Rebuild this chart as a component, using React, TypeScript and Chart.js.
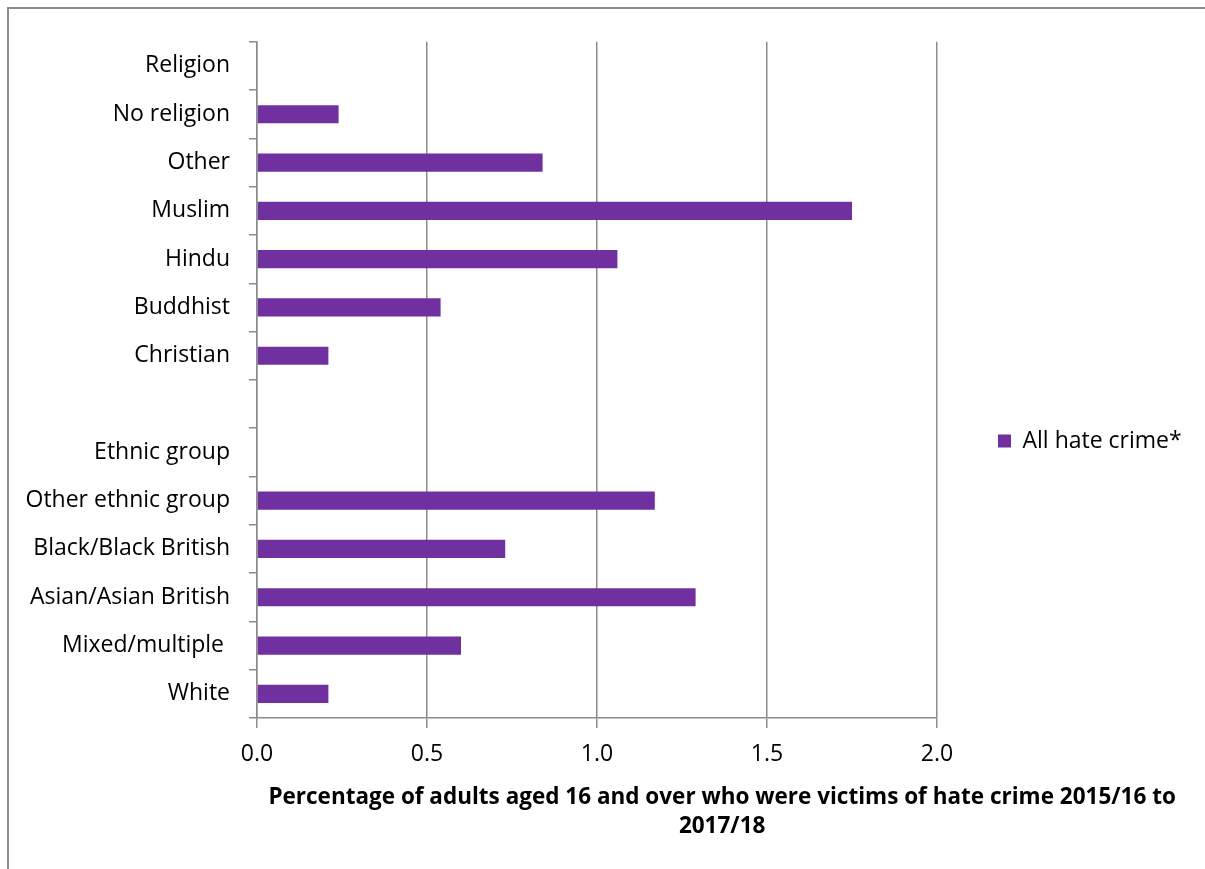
import React, { useEffect, useRef } from "react";
import { Chart, registerables } from "chart.js";

Chart.register(...registerables);

const categories = [
  "Religion",
  "No religion",
  "Other",
  "Muslim",
  "Hindu",
  "Buddhist",
  "Christian",
  "",
  "Ethnic group",
  "Other ethnic group",
  "Black/Black British",
  "Asian/Asian British",
  "Mixed/multiple ",
  "White",
];
const allHateCrime: (number | null)[] = [
  null, 0.24, 0.84, 1.75, 1.06, 0.54, 0.21, null, null, 1.17, 0.73, 1.29, 0.6, 0.21,
];
const seriesLabel = "All hate crime*";
const xMin = 0;
const xMax = 2;
const xStep = 0.5;
const xTitleLines = [
  "Percentage of adults aged 16 and over who were victims of hate crime 2015/16 to",
  "2017/18",
];

const FONT = "'Open Sans', 'DejaVu Sans', sans-serif";
const GRID = "#8c8c8c";
const BAR = "#7030A0";
const LABEL_SIZE = 23;
const LEGEND_BOX = 13;
const LEGEND_PAD = 61;
const CANVAS_W = 1196;
const CANVAS_H = 836;
const AREA_RIGHT = 928;
const AREA_TOP = 28;
const X_AXIS_H = 127;

const xTitlePlugin = {
  id: "xTitle",
  afterDraw(chart: any) {
    const { ctx, chartArea } = chart;
    ctx.save();
    ctx.font = `bold 22.5px ${FONT}`;
    ctx.fillStyle = "#000";
    ctx.textAlign = "center";
    ctx.textBaseline = "middle";
    const cx = chartArea.left + chartArea.width * 0.684;
    const y0 = chartArea.bottom + 80;
    xTitleLines.forEach((line, i) => ctx.fillText(line, cx, y0 + i * 29));
    ctx.restore();
  },
};

export default function App() {
  const ref = useRef<HTMLCanvasElement | null>(null);
  useEffect(() => {
    if (!ref.current) return;
    const mctx = document.createElement("canvas").getContext("2d")!;
    mctx.font = `${LABEL_SIZE}px ${FONT}`;
    const textW = mctx.measureText(seriesLabel).width;
    const legendW = LEGEND_PAD + LEGEND_BOX + LABEL_SIZE / 2 + textW + 10;
    const padRight = CANVAS_W - AREA_RIGHT - legendW;

    const chart = new Chart(ref.current, {
      type: "bar",
      data: {
        labels: categories,
        datasets: [
          {
            label: seriesLabel,
            data: allHateCrime,
            backgroundColor: BAR,
            borderWidth: 0,
            categoryPercentage: 1,
            barPercentage: 0.376,
          },
        ],
      },
      options: {
        indexAxis: "y",
        animation: false,
        responsive: true,
        maintainAspectRatio: false,
        layout: { padding: { top: AREA_TOP, left: 0, right: padRight, bottom: 0 } },
        scales: {
          x: {
            type: "linear",
            min: xMin,
            max: xMax,
            ticks: {
              stepSize: xStep,
              padding: 13,
              color: "#000",
              font: { family: FONT, size: LABEL_SIZE },
              callback: (v: any) => Number(v).toFixed(1),
            },
            grid: { color: GRID, lineWidth: 1.5, tickLength: 10, drawTicks: true },
            border: { color: GRID, width: 1.5 },
            afterFit: (s: any) => {
              s.height = X_AXIS_H;
            },
          },
          y: {
            type: "category",
            ticks: {
              padding: 19,
              color: "#000",
              font: { family: FONT, size: LABEL_SIZE },
              autoSkip: false,
            },
            grid: {
              offset: true,
              drawOnChartArea: false,
              drawTicks: true,
              tickLength: 8,
              color: GRID,
              lineWidth: 1.5,
            },
            border: { color: GRID, width: 1.5 },
            afterFit: (s: any) => {
              s.width = 248;
            },
          },
        },
        plugins: {
          legend: {
            position: "right",
            labels: {
              boxWidth: LEGEND_BOX,
              boxHeight: LEGEND_BOX,
              padding: LEGEND_PAD,
              color: "#000",
              font: { family: FONT, size: LABEL_SIZE },
            },
          },
          tooltip: { enabled: false },
        },
      },
      plugins: [xTitlePlugin],
    });
    return () => chart.destroy();
  }, []);

  return (
    <div
      style={{
        position: "fixed",
        left: 7,
        top: 7,
        width: 1198,
        height: 862,
        overflow: "hidden",
        borderLeft: `2px solid ${GRID}`,
        borderTop: `2px solid ${GRID}`,
        boxSizing: "border-box",
        background: "#fff",
      }}
    >
      <div style={{ position: "relative", width: CANVAS_W, height: CANVAS_H }}>
        <canvas ref={ref} />
      </div>
    </div>
  );
}
